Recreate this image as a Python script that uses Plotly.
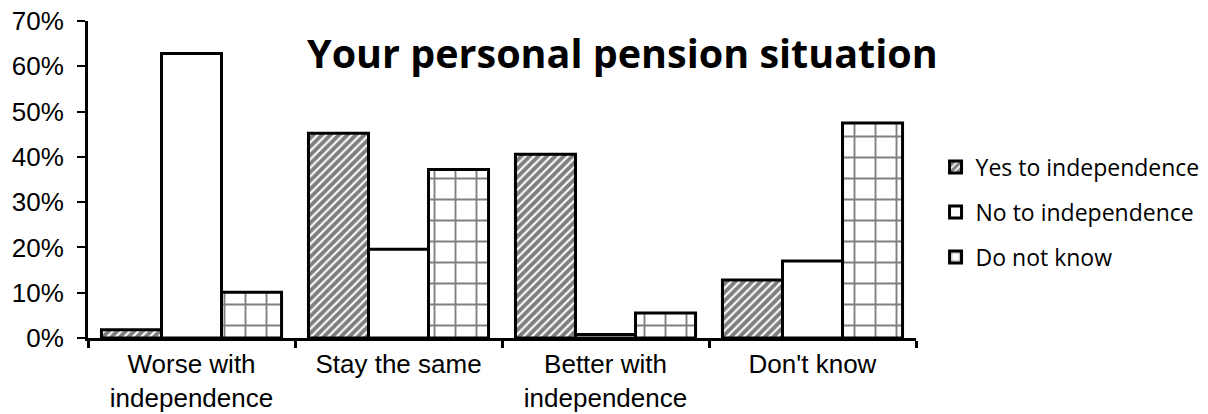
import plotly.graph_objects as go

categories = ["Worse with<br>independence", "Stay the same", "Better with<br>independence", "Don't know"]
yes_vals = [1.8, 45.2, 40.6, 12.8]
no_vals = [62.8, 19.6, 0.8, 17.0]
dnk_vals = [10.1, 37.2, 5.5, 47.5]
series_names = ["Yes to independence", "No to independence", "Do not know"]
y_ticks = [0, 10, 20, 30, 40, 50, 60, 70]
y_labels = [f"{v}%" for v in y_ticks]

fig = go.Figure()

patterns = [
    dict(shape="/", size=6, solidity=0.65, fgcolor="black", bgcolor="white", fillmode="overlay"),
    dict(shape="", fgcolor="black", bgcolor="white"),
    dict(shape="+", size=21, solidity=0.17, fgcolor="black", bgcolor="white", fillmode="overlay"),
]

for i, (name, vals) in enumerate(zip(series_names, [yes_vals, no_vals, dnk_vals])):
    fig.add_trace(go.Bar(
        x=categories, y=vals, name=name, legendgroup=f"g{i}",
        marker=dict(color="white", line=dict(color="black", width=3), pattern=patterns[i]),
    ))

fig.update_layout(
    width=1208, height=414,
    paper_bgcolor="white", plot_bgcolor="white",
    margin=dict(l=88, r=292, t=21, b=76, autoexpand=False),
    barmode="group", bargap=0.13, bargroupgap=0,
    font=dict(family="Liberation Sans, Arial, sans-serif", size=26, color="black"),
    showlegend=True,
    legend=dict(
        x=1.0236, y=0.397, xanchor="left", yanchor="middle",
        font=dict(family="Open Sans, Calibri, sans-serif", size=23, color="black"),
        tracegroupgap=12, traceorder="grouped", itemwidth=30,
    ),
    annotations=[dict(
        text="<b>Your personal pension situation</b>",
        x=0.645, y=0.9, xref="paper", yref="paper", xanchor="center", yanchor="middle",
        showarrow=False,
        font=dict(family="Open Sans, Calibri, sans-serif", size=39.5, color="black"),
    )],
)

fig.update_yaxes(
    range=[0, 70], tickvals=y_ticks, ticktext=y_labels,
    showgrid=False, zeroline=False, automargin=False,
    showline=True, linecolor="black", linewidth=3,
    ticks="outside", ticklen=8, tickwidth=2, tickcolor="black",
    ticklabelstandoff=8,
    tickfont=dict(size=26),
)
fig.update_xaxes(
    showgrid=False, showline=True, linecolor="black", linewidth=3, automargin=False,
    ticks="outside", tickson="boundaries", ticklen=7, tickwidth=3, tickcolor="black",
    ticklabelstandoff=1,
    tickfont=dict(size=26),
)

fig.write_html("out.html")
